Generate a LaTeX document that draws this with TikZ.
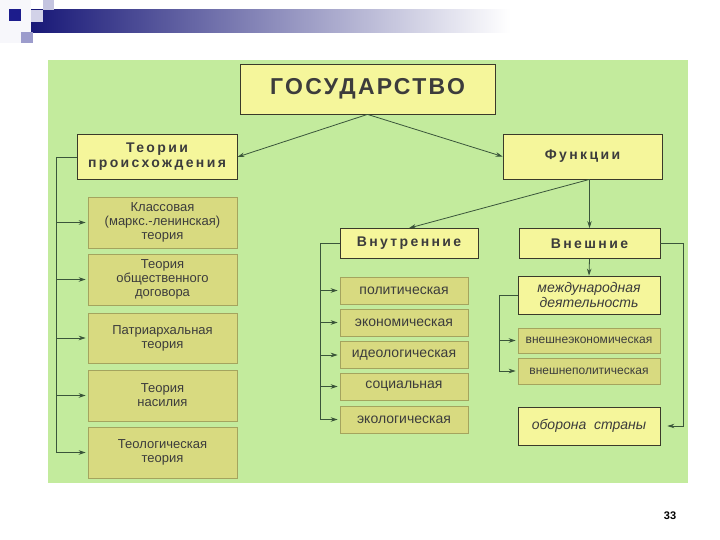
\documentclass[tikz,border=0pt]{standalone}
\usepackage{fontspec}
\setmainfont{Liberation Sans}
\newfontfamily\titlefont[LetterSpace=10]{Liberation Sans}
\newfontfamily\headfont[LetterSpace=17]{Liberation Sans}
\usetikzlibrary{arrows.meta}

\definecolor{slidegreen}{HTML}{C3EB9D}
\definecolor{boxyellow}{HTML}{F5F69B}
\definecolor{boxolive}{HTML}{D8DA80}
\definecolor{boxline}{HTML}{3A3A2A}
\definecolor{oliveline}{HTML}{A4A45E}
\definecolor{txtgray}{HTML}{3C3C3C}
\definecolor{linkgreen}{HTML}{3A553A}
\definecolor{navy}{HTML}{1C1C8C}
\definecolor{lavender}{HTML}{9C9CCC}

\begin{document}
\begin{tikzpicture}[x=1pt,y=-1pt,
  mainbox/.style={draw=boxline, fill=boxyellow, line width=0.8pt, inner sep=0pt, align=center, text=txtgray},
  subbox/.style={draw=oliveline, fill=boxolive, line width=0.6pt, inner sep=0pt, align=center, text=txtgray},
  headtext/.style={font={\headfont\bfseries\fontsize{14}{15}\selectfont}},
  link/.style={draw=linkgreen, line width=0.8pt, -{Stealth[length=7pt,width=4.5pt]}},
  spine/.style={draw=linkgreen, line width=0.8pt}]
  \useasboundingbox (0,0) rectangle (720,540);
  % slide corner marks and bar
  \fill[white!92!lavender] (0,0) rectangle (31,43);
  \shade[left color=navy!85!black, right color=white] (31,10) rectangle (510,33);
  \fill[lavender!45] (31,10) rectangle (43,22);
  \fill[lavender!60] (43,0) rectangle (54,10);
  \fill[lavender] (21,32) rectangle (33,43);
  \fill[navy] (9,9) rectangle (21,21);
  % green panel
  \fill[slidegreen] (48,60) rectangle (688,483);

  % top
  \node[mainbox, minimum width=255pt, minimum height=50pt,
        font={\titlefont\bfseries\fontsize{23}{26}\selectfont}] (state) at (367.5,89) {ГОСУДАРСТВО};
  \node[mainbox, headtext, minimum width=160pt, minimum height=45pt] (orig) at (157,157) {Теории\\происхождения};
  \node[mainbox, headtext, minimum width=159pt, minimum height=45pt] (func) at (582.5,156.5) {Функции};

  % theories
  \begin{scope}[every node/.append style={subbox, minimum width=149pt, font=\fontsize{13}{14}\selectfont}]
    \node[minimum height=51pt] (t1) at (162.5,222.5) {Классовая\\(маркс.-ленинская)\\теория};
    \node[minimum height=51pt] (t2) at (162.5,279.5) {Теория\\общественного\\договора};
    \node[minimum height=50pt] (t3) at (162.5,338) {Патриархальная\\теория};
    \node[minimum height=51pt] (t4) at (162.5,395.5) {Теория\\насилия};
    \node[minimum height=51pt] (t5) at (162.5,452.5) {Теологическая\\теория};
  \end{scope}

  % functions
  \node[mainbox, headtext, minimum width=138pt, minimum height=30pt] (inner) at (409,243.5) {Внутренние};
  \node[mainbox, headtext, minimum width=141pt, minimum height=30pt] (ext) at (589.5,243.5) {Внешние};
  \begin{scope}[every node/.append style={subbox, minimum width=128pt, minimum height=27pt, font=\fontsize{14}{16}\selectfont}]
    \node (f1) at (404,290.5) {политическая};
    \node (f2) at (404,322.5) {экономическая};
    \node (f3) at (404,355) {идеологическая};
    \node (f4) at (404,386.5) {социальная};
    \node (f5) at (404,419.5) {экологическая};
  \end{scope}
  \node[mainbox, minimum width=142pt, minimum height=38pt, font={\itshape\fontsize{14}{15}\selectfont}] (intl) at (589,295) {международная\\деятельность};
  \node[subbox, minimum width=142pt, minimum height=25pt, font=\fontsize{12}{14}\selectfont] (extecon) at (589,340.5) {внешнеэкономическая};
  \node[subbox, minimum width=142pt, minimum height=26pt, font=\fontsize{12}{14}\selectfont] (extpol) at (589,371) {внешнеполитическая};
  \node[mainbox, minimum width=142pt, minimum height=38pt, font={\itshape\fontsize{14}{16}\selectfont}] (defense) at (589,426) {оборона\ \ страны};

  \node[font={\bfseries\fontsize{11}{12}\selectfont}] (pagenum) at (670,516) {33};

  % arrows from the top
  \draw[link] (state.south) -- (orig.east);
  \draw[link] (state.south) -- (func.west);
  \draw[link] (func.south -| ext.north) -- (ext.north);
  \draw[link] (func.south -| ext.north) -- (inner.north);
  \draw[link] (ext.south) -- (intl.north);

  % side spines
  \coordinate (lspine) at (56,0);
  \coordinate (ispine) at (320,0);
  \coordinate (espine) at (499,0);
  \coordinate (rspine) at (683,0);
  \draw[spine] (orig.west) -| (lspine |- t5.west);
  \foreach \n in {t1,t2,t3,t4,t5}
    \draw[link, shorten >=2pt] (lspine |- \n.west) -- (\n.west);
  \draw[spine] (inner.west) -| (ispine |- f5.west);
  \foreach \n in {f1,f2,f3,f4,f5}
    \draw[link, shorten >=2pt] (ispine |- \n.west) -- (\n.west);
  \draw[spine] (intl.west) -| (espine |- extpol.west);
  \foreach \n in {extecon,extpol}
    \draw[link, shorten >=2pt] (espine |- \n.west) -- (\n.west);
  \draw[link, shorten >=7pt] (ext.east) -| (rspine |- defense.east) -- (defense.east);
\end{tikzpicture}
\end{document}
